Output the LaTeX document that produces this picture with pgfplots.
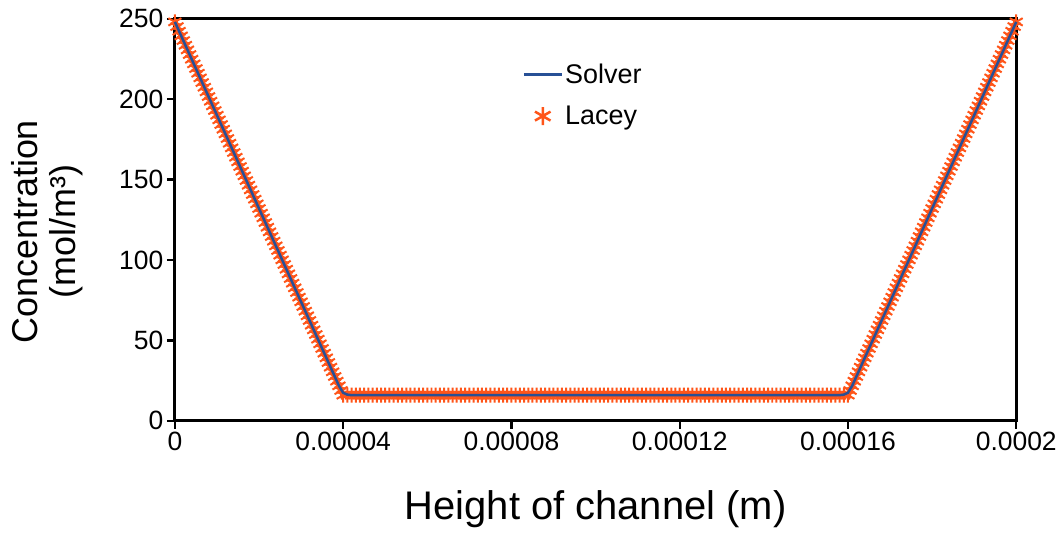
\documentclass[border=0pt]{standalone}
\usepackage{fontspec}
\setmainfont{Liberation Sans}
\usepackage{pgfplots}
\pgfplotsset{compat=1.18}
\definecolor{solver}{RGB}{40,80,150}
\definecolor{lacey}{RGB}{255,85,25}
\pgfplotsset{
  mylinelegend/.style={legend image code/.code={\draw[##1, line width=2.8pt] (0pt,0pt) -- (38pt,0pt);}},
  mymarklegend/.style={legend image code/.code={\draw[##1, mark size=9pt, line width=2.5pt] plot coordinates {(19pt,0pt)};}},
}
\begin{document}
\begin{tikzpicture}
\begin{axis}[
  scale only axis,
  width=843pt, height=403pt,
  xmin=0, xmax=200, ymin=0, ymax=250,
  xtick={0,40,80,120,160,200},
  xticklabels={0,0.00004,0.00008,0.00012,0.00016,0.0002},
  ytick={0,50,100,150,200,250},
  /pgf/number format/assume math mode=true,
  tick label style={font=\fontsize{26.5}{30}\selectfont},
  tick align=outside, tick pos=left,
  major tick length=8pt,
  every tick/.style={line width=2.2pt, black},
  axis line style={line width=3pt, black},
  xlabel={Height of channel (m)},
  xlabel style={font=\fontsize{40}{46}\selectfont, at={(axis description cs:0.5,-0.22)}, anchor=center},
  ylabel={Concentration\\(mol/m³)},
  ylabel style={font=\fontsize{36}{38}\selectfont, align=center, at={(axis description cs:-0.152,0.47)}, anchor=center},
  legend style={at={(axis description cs:0.485,0.81)}, anchor=center, draw=none, fill=none,
    font=\fontsize{27}{32}\selectfont, row sep=17pt},
  legend cell align=left,
  reverse legend,
  clip=false,
  clip mode=individual,
]
\addplot[lacey, only marks, mark=asterisk, mark size=7.5pt, line width=2pt, mymarklegend] coordinates {
(0,248)(0.5,245.1)(1,242.2)(1.5,239.3)(2,236.4)(2.5,233.5)(3,230.6)(3.5,227.7)(4,224.8)(4.5,221.9)
(5,219)(5.5,216.1)(6,213.2)(6.5,210.3)(7,207.4)(7.5,204.5)(8,201.6)(8.5,198.7)(9,195.8)(9.5,192.9)
(10,190)(10.5,187.1)(11,184.2)(11.5,181.3)(12,178.4)(12.5,175.5)(13,172.6)(13.5,169.7)(14,166.8)(14.5,163.9)
(15,161)(15.5,158.1)(16,155.2)(16.5,152.3)(17,149.4)(17.5,146.5)(18,143.6)(18.5,140.7)(19,137.8)(19.5,134.9)
(20,132)(20.5,129.1)(21,126.2)(21.5,123.3)(22,120.4)(22.5,117.5)(23,114.6)(23.5,111.7)(24,108.8)(24.5,105.9)
(25,103)(25.5,100.1)(26,97.2)(26.5,94.3)(27,91.4)(27.5,88.5)(28,85.6)(28.5,82.7)(29,79.8)(29.5,76.9)
(30,74)(30.5,71.1)(31,68.2)(31.5,65.3)(32,62.4)(32.5,59.5)(33,56.6)(33.5,53.7)(34,50.8)(34.5,47.9)
(35,45)(35.5,42.1)(36,39.2)(36.5,36.3)(37,33.4)(37.5,30.5)(38,27.6)(38.5,24.7)(39,21.8)(39.5,18.9)(40,16)
(41,16)(42,16)(43,16)(44,16)(45,16)(46,16)(47,16)(48,16)(49,16)(50,16)
(51,16)(52,16)(53,16)(54,16)(55,16)(56,16)(57,16)(58,16)(59,16)(60,16)
(61,16)(62,16)(63,16)(64,16)(65,16)(66,16)(67,16)(68,16)(69,16)(70,16)
(71,16)(72,16)(73,16)(74,16)(75,16)(76,16)(77,16)(78,16)(79,16)(80,16)
(81,16)(82,16)(83,16)(84,16)(85,16)(86,16)(87,16)(88,16)(89,16)(90,16)
(91,16)(92,16)(93,16)(94,16)(95,16)(96,16)(97,16)(98,16)(99,16)(100,16)
(101,16)(102,16)(103,16)(104,16)(105,16)(106,16)(107,16)(108,16)(109,16)(110,16)
(111,16)(112,16)(113,16)(114,16)(115,16)(116,16)(117,16)(118,16)(119,16)(120,16)
(121,16)(122,16)(123,16)(124,16)(125,16)(126,16)(127,16)(128,16)(129,16)(130,16)
(131,16)(132,16)(133,16)(134,16)(135,16)(136,16)(137,16)(138,16)(139,16)(140,16)
(141,16)(142,16)(143,16)(144,16)(145,16)(146,16)(147,16)(148,16)(149,16)(150,16)
(151,16)(152,16)(153,16)(154,16)(155,16)(156,16)(157,16)(158,16)(159,16)
(160,16)(160.5,18.9)(161,21.8)(161.5,24.7)(162,27.6)(162.5,30.5)(163,33.4)(163.5,36.3)(164,39.2)(164.5,42.1)
(165,45)(165.5,47.9)(166,50.8)(166.5,53.7)(167,56.6)(167.5,59.5)(168,62.4)(168.5,65.3)(169,68.2)(169.5,71.1)
(170,74)(170.5,76.9)(171,79.8)(171.5,82.7)(172,85.6)(172.5,88.5)(173,91.4)(173.5,94.3)(174,97.2)(174.5,100.1)
(175,103)(175.5,105.9)(176,108.8)(176.5,111.7)(177,114.6)(177.5,117.5)(178,120.4)(178.5,123.3)(179,126.2)(179.5,129.1)
(180,132)(180.5,134.9)(181,137.8)(181.5,140.7)(182,143.6)(182.5,146.5)(183,149.4)(183.5,152.3)(184,155.2)(184.5,158.1)
(185,161)(185.5,163.9)(186,166.8)(186.5,169.7)(187,172.6)(187.5,175.5)(188,178.4)(188.5,181.3)(189,184.2)(189.5,187.1)
(190,190)(190.5,192.9)(191,195.8)(191.5,198.7)(192,201.6)(192.5,204.5)(193,207.4)(193.5,210.3)(194,213.2)(194.5,216.1)
(195,219)(195.5,221.9)(196,224.8)(196.5,227.7)(197,230.6)(197.5,233.5)(198,236.4)(198.5,239.3)(199,242.2)(199.5,245.1)(200,248)
};
\addplot[solver, line width=2.5pt, no marks, mylinelegend] coordinates {
(0,248)(39,21.8)(40,17.5)(41,16.3)(42,16)(158,16)(159,16.3)(160,17.5)(161,21.8)(200,248)
};
\legend{Lacey,Solver}
\end{axis}
\path ([shift={(-8pt,-4pt)}]current bounding box.south west) rectangle ([shift={(3pt,6pt)}]current bounding box.north east);
\end{tikzpicture}
\end{document}
